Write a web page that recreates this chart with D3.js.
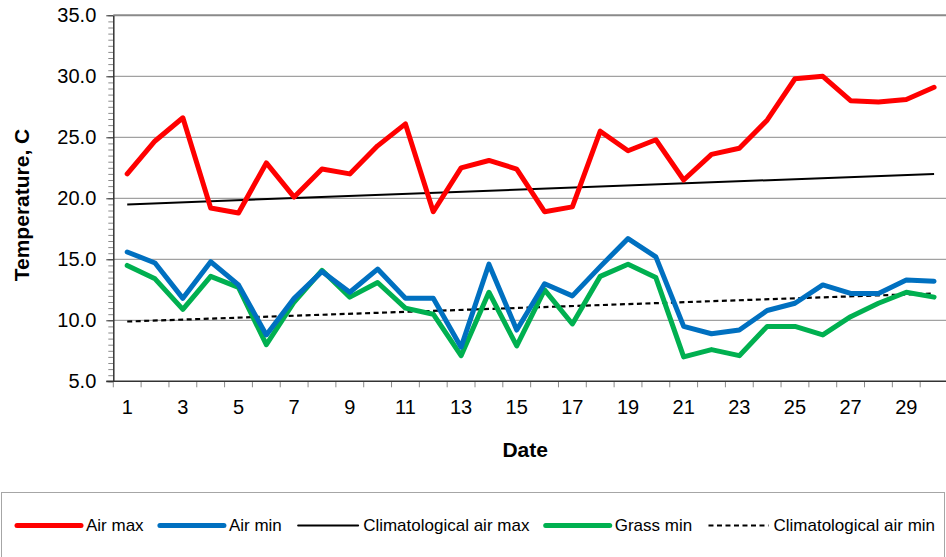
<!DOCTYPE html>
<html>
<head>
<meta charset="utf-8">
<script src="https://cdn.jsdelivr.net/npm/d3@7"></script>
<style>
  body { margin: 0; background: #fff; }
  svg { display: block; font-family: "Liberation Sans", Arial, sans-serif; }
</style>
</head>
<body>
<div id="chart-area"></div>
<script>
var days = [1,2,3,4,5,6,7,8,9,10,11,12,13,14,15,16,17,18,19,20,21,22,23,24,25,26,27,28,29,30];
var airMax = [22.0,24.7,26.6,19.2,18.8,22.9,20.1,22.4,22.0,24.3,26.1,18.9,22.5,23.1,22.4,18.9,19.3,25.5,23.9,24.8,
	21.5,23.6,24.1,26.4,29.8,30.0,28.0,27.9,28.1,29.1];
var airMin = [15.6,14.7,11.8,14.8,12.9,8.8,11.8,14.0,12.3,14.2,11.8,11.8,7.8,14.6,9.2,13.0,12.0,14.4,16.7,15.2,
	9.5,8.9,9.2,10.8,11.4,12.9,12.2,12.2,13.3,13.2];
var grassMin = [14.5,13.4,10.9,13.6,12.7,8.0,11.5,14.1,11.9,13.1,11.0,10.5,7.1,12.3,7.9,12.5,9.7,13.6,14.6,13.5,
	7.0,7.6,7.1,9.5,9.5,8.8,10.3,11.4,12.3,11.9];
// climatological lines are straight, so only the first and last day are kept
var climDays = [1, 30];
var climMax = [19.5, 22.0];
var climMin = [9.9, 12.2];

var yTicks = [5,10,15,20,25,30,35];
var xLabels = [1,3,5,7,9,11,13,15,17,19,21,23,25,27,29];
var seriesNames = ["Air max", "Air min", "Climatological air max", "Grass min", "Climatological air min"];

var width = 946, height = 557;
var plot = {left:113.3, right:948, top:15.3, bottom:381.3};

var svg = d3.select("#chart-area")
	.append("svg")
		.attr("width", width)
		.attr("height", height);

var x = d3.scaleBand()
	.domain(days)
	.range([plot.left, plot.right])
	.padding(0);

var y = d3.scaleLinear()
	.domain([5, 35])
	.range([plot.bottom, plot.top]);

function cx(d) { return x(d) + x.bandwidth() / 2; }

// gridlines
svg.append("g")
	.selectAll("line")
	.data(yTicks.slice(1))
	.enter()
	.append("line")
		.attr("x1", plot.left)
		.attr("x2", plot.right)
		.attr("y1", function(d){ return y(d); })
		.attr("y2", function(d){ return y(d); })
		.attr("stroke", "#8a8a8a")
		.attr("stroke-width", function(d){ return d == 35 ? 2 : 1; });

// minor y ticks
svg.append("g")
	.attr("transform", "translate(" + plot.left + ",0)")
	.call(d3.axisLeft(y).tickValues(d3.range(5, 35.01, 0.5)).tickSize(5).tickFormat(""))
	.call(function(g){
		g.select(".domain").remove();
		g.selectAll("line").attr("stroke", "#8a8a8a");
	});

// y axis
svg.append("g")
	.attr("class", "y-axis")
	.attr("transform", "translate(" + plot.left + ",0)")
	.call(d3.axisLeft(y).tickValues(yTicks).tickSize(7).tickSizeOuter(0).tickFormat(d3.format(".1f")))
	.call(function(g){
		g.select(".domain").attr("stroke", "#333").attr("stroke-width", 1.5);
		g.selectAll("line").attr("stroke", "#333");
		g.selectAll("text")
			.attr("x", -17)
			.attr("font-size", "20px")
			.attr("fill", "#000")
			.attr("font-family", "Liberation Sans, Arial, sans-serif");
	});

// x axis: ticks on the day boundaries, labels on odd days
var bounds = days.map(function(d){ return x(d); }).concat([x(30) + x.bandwidth()]);
svg.append("g")
	.selectAll("line")
	.data(bounds)
	.enter()
	.append("line")
		.attr("x1", function(d){ return d; })
		.attr("x2", function(d){ return d; })
		.attr("y1", plot.bottom)
		.attr("y2", plot.bottom + 6)
		.attr("stroke", "#8a8a8a");

svg.append("line")
	.attr("x1", plot.left - 7)
	.attr("x2", plot.right)
	.attr("y1", plot.bottom)
	.attr("y2", plot.bottom)
	.attr("stroke", "#333")
	.attr("stroke-width", 1.5);

svg.append("g")
	.selectAll("text")
	.data(xLabels)
	.enter()
	.append("text")
		.attr("x", function(d){ return cx(d); })
		.attr("y", 407)
		.attr("dy", "0.35em")
		.attr("text-anchor", "middle")
		.attr("font-size", "20px")
		.text(function(d){ return d; });

// axis titles
svg.append("text")
	.attr("x", (plot.left + 937) / 2)
	.attr("y", 450)
	.attr("dy", "0.35em")
	.attr("text-anchor", "middle")
	.attr("font-size", "21px")
	.attr("font-weight", "bold")
	.text("Date");

svg.append("text")
	.attr("transform", "translate(22,205) rotate(-90)")
	.attr("dy", "0.35em")
	.attr("text-anchor", "middle")
	.attr("font-size", "21px")
	.attr("font-weight", "bold")
	.text("Temperature, C");

// lines
var line = d3.line()
	.x(function(d){ return cx(d[0]); })
	.y(function(d){ return y(d[1]); });

var styles = [
	{data: d3.zip(climDays, climMin), color: "#000", w: 2.2, dash: "5,3.5", cap: "butt"},
	{data: d3.zip(climDays, climMax), color: "#000", w: 2, dash: null, cap: "butt"},
	{data: d3.zip(days, grassMin), color: "#00B050", w: 5, dash: null, cap: "round"},
	{data: d3.zip(days, airMin), color: "#0070C0", w: 5, dash: null, cap: "round"},
	{data: d3.zip(days, airMax), color: "#FF0000", w: 5, dash: null, cap: "round"}
];

svg.append("g")
	.selectAll("path")
	.data(styles)
	.enter()
	.append("path")
		.attr("d", function(s){ return line(s.data); })
		.attr("fill", "none")
		.attr("stroke", function(s){ return s.color; })
		.attr("stroke-width", function(s){ return s.w; })
		.attr("stroke-dasharray", function(s){ return s.dash; })
		.attr("stroke-linejoin", "round")
		.attr("stroke-linecap", function(s){ return s.cap; });

// legend
svg.append("rect")
	.attr("x", 1.5)
	.attr("y", 492.5)
	.attr("width", 943)
	.attr("height", 100)
	.attr("fill", "none")
	.attr("stroke", "#a6a6a6");

var legendStyle = [
	{color: "#FF0000", w: 5, dash: null, len: 64},
	{color: "#0070C0", w: 5, dash: null, len: 64},
	{color: "#000", w: 2, dash: null, len: 60},
	{color: "#00B050", w: 5, dash: null, len: 64},
	{color: "#000", w: 2.2, dash: "5,3.5", len: 60}
];

var leg = svg.append("g");
var lx = 17, ly = 525.5;
seriesNames.forEach(function(name, i){
	var s = legendStyle[i];
	leg.append("line")
		.attr("x1", lx)
		.attr("x2", lx + s.len)
		.attr("y1", ly)
		.attr("y2", ly)
		.attr("stroke", s.color)
		.attr("stroke-width", s.w)
		.attr("stroke-dasharray", s.dash)
		.attr("stroke-linecap", s.dash ? "butt" : "round");
	var t = leg.append("text")
		.attr("x", lx + s.len + 5)
		.attr("y", ly)
		.attr("dy", "0.35em")
		.attr("font-size", "17px")
		.text(name);
	lx = lx + s.len + 5 + t.node().getComputedTextLength() + 16.3;
});
</script>
</body>
</html>
